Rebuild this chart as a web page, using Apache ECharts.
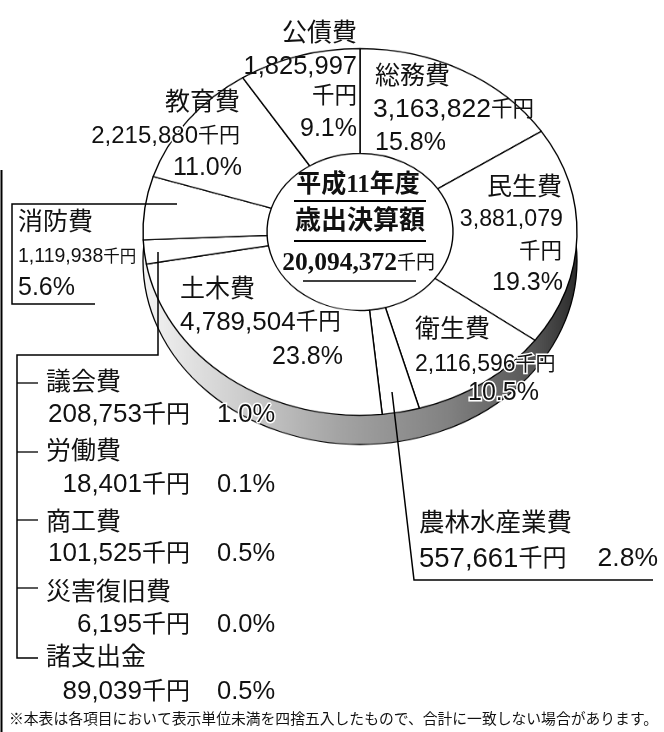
<!DOCTYPE html>
<html lang="ja">
<head>
<meta charset="utf-8">
<title>平成11年度 歳出決算額</title>
<script src="https://cdn.jsdelivr.net/npm/echarts@6/dist/echarts.min.js"></script>
<style>
    html, body { margin: 0; padding: 0; background: #fff; }
    #stage { position: relative; width: 664px; height: 732px; overflow: hidden; }
    #pie { position: absolute; left: 0; top: 0; width: 664px; height: 620px; transform: scaleY(0.845); transform-origin: 0 0; }
    #labels { position: absolute; left: 0; top: 0; width: 664px; height: 732px; }
</style>
</head>
<body>
<div id="stage">
    <div id="pie"></div>
    <div id="labels"></div>
</div>
<script>
// 円グラフの扇形(時計回り、上から)
const sliceNames = ['総務費', '民生費', '衛生費', '農林水産業費', '土木費', 'その他', '消防費', '教育費', '公債費'];
const sliceValues = [3163822, 3881079, 2116596, 557661, 4789504, 423913, 1119938, 2215880, 1825997];

// ラベル用の文字
const amountTexts = {
    '総務費': '3,163,822', '民生費': '3,881,079', '衛生費': '2,116,596', '農林水産業費': '557,661',
    '土木費': '4,789,504', '消防費': '1,119,938', '教育費': '2,215,880', '公債費': '1,825,997'
};
const percentTexts = {
    '総務費': '15.8%', '民生費': '19.3%', '衛生費': '10.5%', '農林水産業費': '2.8%',
    '土木費': '23.8%', '消防費': '5.6%', '教育費': '11.0%', '公債費': '9.1%'
};
const otherNames = ['議会費', '労働費', '商工費', '災害復旧費', '諸支出金'];
const otherAmounts = ['208,753', '18,401', '101,525', '6,195', '89,039'];
const otherPercents = ['1.0%', '0.1%', '0.5%', '0.0%', '0.5%'];
const unit = '千円';
const centerLines = ['平成11年度', '歳出決算額', '20,094,372'];
const footnote = '※本表は各項目において表示単位未満を四捨五入したもので、合計に一致しない場合があります。';

const SANS = '"Liberation Sans","Noto Sans CJK JP",sans-serif';
const SERIF = '"Liberation Serif","Noto Sans CJK JP",serif';
const INK = '#111';

function initPie() {
    const chart = echarts.init(document.getElementById('pie'));
    chart.setOption({
        animation: false,
        series: [
            {
                // 厚み部分
                type: 'pie',
                silent: true,
                center: [360, 309],
                radius: [150, 217],
                label: { show: false },
                data: [{
                    value: 1,
                    itemStyle: {
                        color: {
                            type: 'linear', x: 0, y: 0, x2: 1, y2: 0,
                            colorStops: [
                                { offset: 0, color: '#f4f4f4' },
                                { offset: 0.2, color: '#d2d2d2' },
                                { offset: 0.45, color: '#a4a4a4' },
                                { offset: 0.7, color: '#828282' },
                                { offset: 0.9, color: '#555' },
                                { offset: 1, color: '#2a2a2a' }
                            ]
                        },
                        borderColor: '#000',
                        borderWidth: 1.3
                    }
                }]
            },
            {
                type: 'pie',
                silent: true,
                center: [360, 274.5],
                radius: [93, 217],
                startAngle: 90,
                label: { show: false },
                itemStyle: { color: '#fff', borderColor: '#000', borderWidth: 1.4 },
                data: sliceNames.map((name, i) => ({ name: name, value: sliceValues[i] }))
            }
        ]
    });
}

function text(str, x, y, size, align, opts) {
    const o = opts || {};
    const style = {
        x: x, y: y, text: str,
        textAlign: align || 'left',
        textVerticalAlign: 'middle',
        font: (o.weight || 'normal') + ' ' + size + 'px ' + (o.family || SANS),
        fill: INK
    };
    if (o.halo) {
        style.stroke = '#fff';
        style.lineWidth = 3;
        style.strokeFirst = true;
    }
    return { type: 'text', z: 10, style: style };
}

// 数字と「千円」で大きさが違う
function amount(num, x, y, numSize, unitSize, align, opts) {
    const el = text('{n|' + num + '}{u|' + unit + '}', x, y, numSize, align, opts);
    el.style.rich = {
        n: { font: numSize + 'px ' + SANS, fill: INK, verticalAlign: 'middle' },
        u: { font: unitSize + 'px ' + SANS, fill: INK, verticalAlign: 'middle' }
    };
    return el;
}

function line(points, width) {
    return {
        type: 'polyline', z: 5,
        shape: { points: points },
        style: { stroke: '#000', lineWidth: width || 1.3, fill: null }
    };
}

function initLabels() {
    const els = [];

    // 線
    els.push(line([[1.5, 170], [1.5, 732]], 2));
    els.push(line([[177, 204], [12, 204], [12, 304], [95, 304]], 1.5));
    els.push(line([[158, 252], [158, 355], [17, 355], [17, 658], [38, 658]], 1.5));
    [383, 452, 520, 588].forEach(y => els.push(line([[17, y], [38, y]], 1.3)));
    els.push(line([[392, 392], [414, 580], [653, 580]], 1.5));

    // 中央
    els.push(text(centerLines[0], 358, 186, 25, 'center', { weight: 'bold', family: SERIF }));
    els.push(line([[294, 201], [426, 201]], 2));
    els.push(text(centerLines[1], 360, 222, 26, 'center', { weight: 'bold', family: SERIF }));
    els.push(line([[294, 241], [426, 241]], 2));
    els.push(text(centerLines[2], 397, 263, 25.5, 'right', { weight: 'bold', family: SERIF }));
    els.push(text(unit, 397, 264, 19, 'left', { family: SERIF }));
    els.push(line([[303, 281], [416, 281]], 1.5));

    // 公債費
    els.push(text('公債費', 357, 34, 25, 'right'));
    els.push(text(amountTexts['公債費'], 357, 67, 25.5, 'right'));
    els.push(text(unit, 357, 97, 22.5, 'right'));
    els.push(text(percentTexts['公債費'], 357, 129, 25, 'right'));
    // 総務費
    els.push(text('総務費', 375, 77, 25));
    els.push(amount(amountTexts['総務費'], 373, 110, 26.5, 21.5));
    els.push(text(percentTexts['総務費'], 375, 143, 25));
    // 民生費
    els.push(text('民生費', 562, 188, 25, 'right'));
    els.push(text(amountTexts['民生費'], 563, 220, 23.2, 'right'));
    els.push(text(unit, 562, 252, 21.5, 'right'));
    els.push(text(percentTexts['民生費'], 563, 283, 25, 'right'));
    // 衛生費
    els.push(text('衛生費', 415, 330, 25));
    els.push(amount(amountTexts['衛生費'], 415, 365, 23, 20, 'left', { halo: true }));
    els.push(text(percentTexts['衛生費'], 468, 393, 25, 'left', { halo: true }));
    // 土木費
    els.push(text('土木費', 180, 290, 25));
    els.push(amount(amountTexts['土木費'], 180, 323, 26, 22.5));
    els.push(text(percentTexts['土木費'], 343, 357, 25, 'right'));
    // 教育費
    els.push(text('教育費', 240, 103, 25, 'right'));
    els.push(amount(amountTexts['教育費'], 240, 136, 24, 21, 'right', { halo: true }));
    els.push(text(percentTexts['教育費'], 242, 168, 25, 'right'));
    // 消防費
    els.push(text('消防費', 18, 223, 25));
    els.push(amount(amountTexts['消防費'], 18, 257, 19.5, 16.5));
    els.push(text(percentTexts['消防費'], 18, 288, 25));
    // 農林水産業費
    els.push(text('農林水産業費', 419, 524, 25.5));
    els.push(amount(amountTexts['農林水産業費'], 419, 559, 27.5, 24));
    els.push(text(percentTexts['農林水産業費'], 658, 559, 26.5, 'right'));

    // その他の内訳
    const nameY = [383, 452, 523, 593, 658];
    const amountY = [415, 485, 554, 625, 692];
    otherNames.forEach((name, i) => {
        els.push(text(name, 46, nameY[i], 25));
        els.push(amount(otherAmounts[i], 190, amountY[i], 26, 24, 'right'));
        els.push(text(otherPercents[i], 217, amountY[i], 25.5, 'left', { halo: i === 0 }));
    });

    els.push(text(footnote, 9, 720, 14.8));

    const chart = echarts.init(document.getElementById('labels'));
    chart.setOption({ animation: false, graphic: { elements: els } });
}

document.addEventListener('DOMContentLoaded', () => {
    initPie();
    initLabels();
});
</script>
</body>
</html>
